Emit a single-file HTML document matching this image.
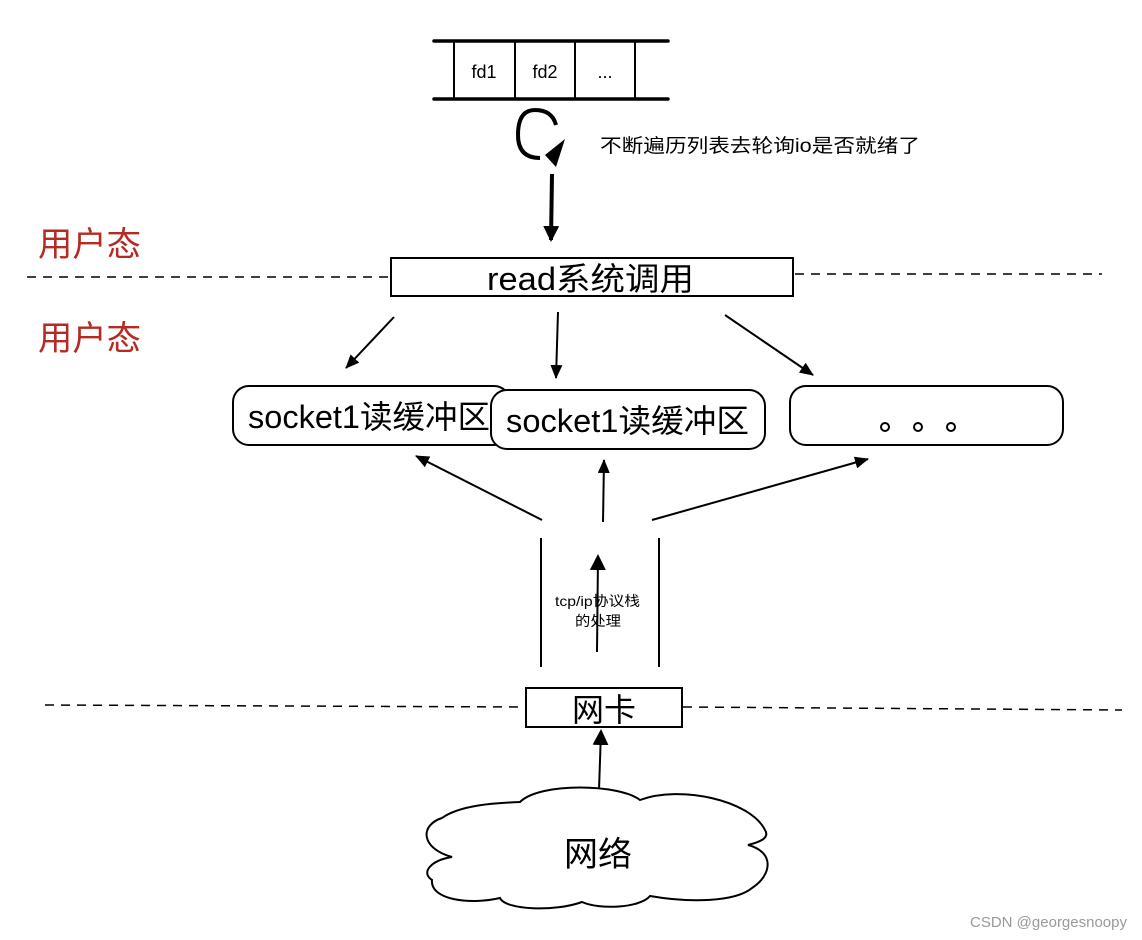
<!DOCTYPE html>
<html><head><meta charset="utf-8"><style>
html,body{margin:0;padding:0;background:#fff;}
svg{display:block;}
text{font-family:"Liberation Sans","Noto Sans CJK SC",sans-serif;fill:#000;}
</style></head><body>
<svg width="1142" height="940" viewBox="0 0 1142 940" xmlns="http://www.w3.org/2000/svg">
<defs>
<marker id="ah" markerWidth="14" markerHeight="12" refX="13" refY="6" orient="auto" markerUnits="userSpaceOnUse" viewBox="0 0 14 12"><path d="M0,0 L14,6 L0,12 z" fill="#000"/></marker>
<marker id="ah2" markerWidth="16" markerHeight="16" refX="14" refY="8" orient="auto" markerUnits="userSpaceOnUse" viewBox="0 0 16 16"><path d="M0,0 L16,8 L0,16 z" fill="#000"/></marker>
</defs>
<g stroke="#000" fill="none">
<line x1="434" y1="41" x2="668" y2="41" stroke-width="3.5" stroke-linecap="round"/>
<line x1="434" y1="99" x2="668" y2="99" stroke-width="3.5" stroke-linecap="round"/>
<line x1="454" y1="41" x2="454" y2="99" stroke-width="2"/>
<line x1="515" y1="41" x2="515" y2="99" stroke-width="2"/>
<line x1="575" y1="41" x2="575" y2="99" stroke-width="2"/>
<line x1="635" y1="41" x2="635" y2="99" stroke-width="2"/>
</g>
<text x="484" y="78" font-size="18" text-anchor="middle">fd1</text>
<text x="545" y="78" font-size="18" text-anchor="middle">fd2</text>
<text x="605" y="78" font-size="18" text-anchor="middle">...</text>
<path d="M556,125 Q552,110 535,110 Q518,110 518,135 Q518,158 540,158" stroke="#000" stroke-width="4" fill="none"/>
<path d="M565,139 L545,155 L556,167 z" fill="#000"/>
<text x="600" y="152" font-size="19" textLength="320" lengthAdjust="spacingAndGlyphs">不断遍历列表去轮询io是否就绪了</text>
<line x1="552" y1="174" x2="551" y2="240" stroke="#000" stroke-width="4" marker-end="url(#ah2)"/>
<g stroke="#000" stroke-width="1.5" stroke-dasharray="9,7" fill="none">
<line x1="27" y1="277" x2="391" y2="277"/>
<line x1="795" y1="274" x2="1102" y2="274"/>
<line x1="45" y1="705" x2="525" y2="707"/>
<line x1="683" y1="707" x2="1122" y2="710"/>
</g>
<text x="38" y="256" font-size="34" textLength="103" lengthAdjust="spacingAndGlyphs" style="fill:#b52a22">用户态</text>
<text x="38" y="350" font-size="34" textLength="103" lengthAdjust="spacingAndGlyphs" style="fill:#b52a22">用户态</text>
<rect x="391" y="258" width="402" height="38" fill="#fff" stroke="#000" stroke-width="2"/>
<text x="487" y="290" font-size="32" textLength="207" lengthAdjust="spacingAndGlyphs">read系统调用</text>
<g stroke="#000" stroke-width="2" fill="none">
<line x1="394" y1="317" x2="346" y2="368" marker-end="url(#ah)"/>
<line x1="558" y1="312" x2="556" y2="378" marker-end="url(#ah)"/>
<line x1="725" y1="315" x2="813" y2="375" marker-end="url(#ah)"/>
</g>
<rect x="233" y="386" width="277" height="59" rx="16" fill="#fff" stroke="#000" stroke-width="2"/>
<text x="248" y="428" font-size="32" textLength="242" lengthAdjust="spacingAndGlyphs">socket1读缓冲区</text>
<rect x="491" y="390" width="274" height="59" rx="16" fill="#fff" stroke="#000" stroke-width="2"/>
<text x="506" y="432" font-size="32" textLength="243" lengthAdjust="spacingAndGlyphs">socket1读缓冲区</text>
<rect x="790" y="386" width="273" height="59" rx="16" fill="#fff" stroke="#000" stroke-width="2"/>
<g fill="none" stroke="#000" stroke-width="2">
<circle cx="885" cy="427" r="4"/><circle cx="918" cy="427" r="4"/><circle cx="951" cy="427" r="4"/>
</g>
<g stroke="#000" stroke-width="2" fill="none">
<line x1="542" y1="520" x2="416" y2="456" marker-end="url(#ah)"/>
<line x1="603" y1="522" x2="604" y2="460" marker-end="url(#ah)"/>
<line x1="652" y1="520" x2="868" y2="459" marker-end="url(#ah)"/>
<line x1="541" y1="538" x2="541" y2="667"/>
<line x1="659" y1="538" x2="659" y2="667"/>
<line x1="597" y1="652" x2="598" y2="556" marker-end="url(#ah2)"/>
</g>
<text x="555" y="606" font-size="14" textLength="85" lengthAdjust="spacingAndGlyphs">tcp/ip协议栈</text>
<text x="575" y="626" font-size="14" textLength="46" lengthAdjust="spacingAndGlyphs">的处理</text>
<rect x="526" y="688" width="156" height="39" fill="#fff" stroke="#000" stroke-width="2"/>
<text x="604" y="721" font-size="32" text-anchor="middle">网卡</text>
<line x1="599" y1="790" x2="601" y2="731" stroke="#000" stroke-width="2" marker-end="url(#ah2)"/>
<path d="M520,802 C540,782 620,784 640,800 C680,785 750,800 765,830 C770,838 760,842 748,845 C775,852 772,875 752,888 C735,902 690,903 650,896 C640,908 600,910 582,902 C555,912 505,910 500,898 C470,905 430,900 432,880 C420,872 432,860 452,857 C420,848 420,825 442,818 C460,805 495,803 520,802 z" fill="#fff" stroke="#000" stroke-width="2"/>
<text x="598" y="866" font-size="34" text-anchor="middle">网络</text>
<text x="1127" y="927" font-size="15" text-anchor="end" style="fill:#999">CSDN @georgesnoopy</text>
</svg>
</body></html>
